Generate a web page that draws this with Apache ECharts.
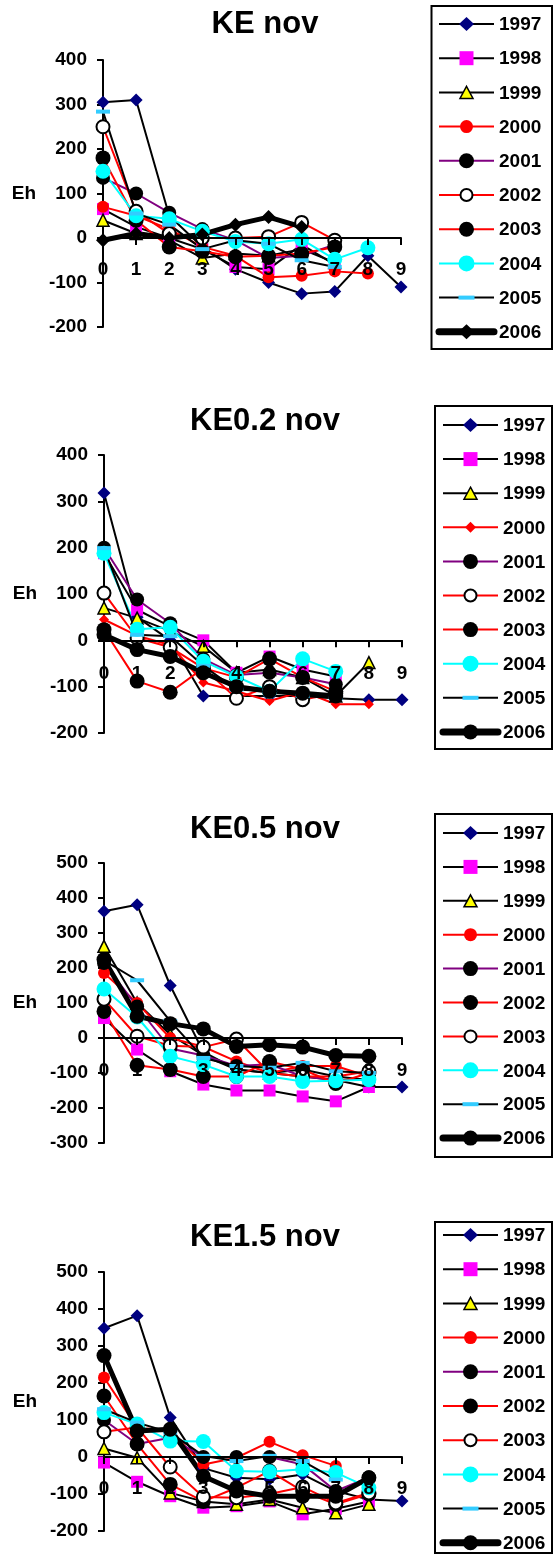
<!DOCTYPE html>
<html><head><meta charset="utf-8">
<script src="https://cdn.jsdelivr.net/npm/echarts@6/dist/echarts.min.js"></script>
<style>html,body{margin:0;padding:0;background:#fff}#c{width:554px;height:1556px}</style>
</head><body><div id="c"></div>
<script>
// ---------- data ----------
const categories = ['0','1','2','3','4','5','6','7','8','9'];
const years = ['1997','1998','1999','2000','2001','2002','2003','2004','2005','2006'];
const titles = ['KE nov','KE0.2 nov','KE0.5 nov','KE1.5 nov'];
const yName = 'Eh';

// KE nov
const p1_1997 = [305, 310, 50, -20, -70, -100, -125, -120, -40, -110];
const p1_1998 = [65, 25, 0, -25, -65, -70, -15, -60];
const p1_1999 = [40, 10, -5, -45, -35, -40, -25, -55];
const p1_2000 = [70, 50, 20, -20, -40, -88, -85, -75, -80];
const p1_2001 = [135, 100, 57, 20, -5, -45, -40, -15];
const p1_2002 = [250, 60, 10, 0, 0, 3, 35, -5];
const p1_2003 = [180, 40, -20, -30, -42, -40, -35, -20];
const p1_2004 = [150, 50, 43, 15, -8, -13, -3, -48, -22];
const p1_2005 = [284, 55, 30, -25, -5, -13, -50, -65];
const p1_2006 = [-5, 10, 0, 8, 30, 47, 25];
// KE0.2 nov
const p2_1997 = [318, 50, 0, -120, -120, -120, -120, -125, -128, -128];
const p2_1998 = [188, 66, 30, 0, -70, -35, -63, -78];
const p2_1999 = [70, 48, 20, -13, -70, -63, -80, -120, -48];
const p2_2000 = [45, 10, -10, -91, -110, -131, -110, -138, -138];
const p2_2001 = [200, 88, 37, -40, -75, -70, -80, -95];
const p2_2002 = [102, 5, -15, -60, -125, -100, -128, -115];
const p2_2003 = [23, -88, -112, -60, -80, -40, -80, -110];
const p2_2004 = [188, 24, 28, -45, -78, -110, -40, -67];
const p2_2005 = [199, 12, 9, -55, -106, -110, -120, -125];
const p2_2006 = [12, -20, -35, -70, -100, -110, -114, -120];
// KE0.5 nov
const p3_1997 = [362, 381, 150, -40, -90, -100, -110, -120, -140, -140];
const p3_1998 = [57, -33, -95, -133, -150, -150, -167, -181, -140];
const p3_1999 = [262, 100, 10, -50, -90, -100, -90, -110, -120];
const p3_2000 = [186, 100, 0, -25, -67, -100, -80, -80, -110];
const p3_2001 = [214, 90, -30, -50, -80, -75, -110, -120, -120];
const p3_2002 = [76, -78, -90, -110, -110, -67, -90, -130, -100];
const p3_2003 = [111, 5, -22, -26, -3, -100, -110, -110, -95];
const p3_2004 = [140, 60, -52, -76, -110, -110, -124, -122, -119];
const p3_2005 = [222, 165, 48, -57, -80, -85, -71, -95, -100];
const p3_2006 = [224, 62, 41, 26, -24, -19, -26, -50, -52];
// KE1.5 nov
const p4_1997 = [348, 382, 107, -30, -56, -60, -47, -92, -115, -119];
const p4_1998 = [-15, -67, -106, -137, -133, -120, -155, -140, -120];
const p4_1999 = [23, -2, -97, -120, -128, -115, -137, -151, -128];
const p4_2000 = [215, 80, 70, -20, -2, 41, 5, -24];
const p4_2001 = [100, 35, 52, 0, 0, 0, -20, -92, -55];
const p4_2002 = [165, 35, -74, -120, -83, -38, -92, -128, -100];
const p4_2003 = [68, 80, -27, -108, -110, -100, -81, -124, -97];
const p4_2004 = [120, 89, 43, 42, -38, -40, -33, -42, -83];
const p4_2005 = [129, 93, 66, 3, -11, 3, -11, -61];
const p4_2006 = [274, 70, 75, -52, -92, -106, -106, -106, -56];

const panelData = [
  [p1_1997,p1_1998,p1_1999,p1_2000,p1_2001,p1_2002,p1_2003,p1_2004,p1_2005,p1_2006],
  [p2_1997,p2_1998,p2_1999,p2_2000,p2_2001,p2_2002,p2_2003,p2_2004,p2_2005,p2_2006],
  [p3_1997,p3_1998,p3_1999,p3_2000,p3_2001,p3_2002,p3_2003,p3_2004,p3_2005,p3_2006],
  [p4_1997,p4_1998,p4_1999,p4_2000,p4_2001,p4_2002,p4_2003,p4_2004,p4_2005,p4_2006]
];
const yMin = [-200, -200, -300, -200];
const yMax = [400, 400, 500, 500];

// ---------- layout / style ----------
const FONT = '"Liberation Sans", Arial, Helvetica, sans-serif';
const layout = [
  {gLeft:103, gTop:60, gH:267, tTop:9,   lblM:-67, box:[431.5, 6, 552, 349],   y0:24,   step:34.2, lx1:439, lx2:494, tx:499},
  {gLeft:104, gTop:455, gH:278, tTop:406, lblM:-69, box:[435, 406, 552, 749],  y0:425,  step:34.1, lx1:443, lx2:498, tx:503},
  {gLeft:104, gTop:863, gH:280, tTop:814, lblM:-82, box:[435, 814, 552, 1157], y0:833,  step:33.9, lx1:443, lx2:498, tx:503},
  {gLeft:104, gTop:1272, gH:259, tTop:1222, lblM:-52, box:[435, 1222, 552, 1553], y0:1235, step:34.2, lx1:443, lx2:498, tx:503}
];
const GW = 298;

function sty(p, k) {
  const white = {symbol:'circle', size:13, lsize:12, fill:'#fff', stroke:'#000', sw:2, line:'#FF0000', lw:2};
  const blackRed = {symbol:'circle', size:15, lsize:15, fill:'#000', line:'#FF0000', lw:2};
  switch (k) {
    case 0: return {symbol:'diamond', size:13, lsize:[15,14], fill:'#000080', line:'#000', lw:2};
    case 1: return {symbol:'rect', size:12, lsize:[14,14], fill:'#FF00FF', line:'#000', lw:2};
    case 2: return {symbol:'triangle', size:12, lsize:[13,12], fill:'#FFFF00', stroke:'#000', sw:1.5, line:'#000', lw:2};
    case 3: return p === 1 ? {symbol:'diamond', size:10, lsize:[11,11], fill:'#FF0000', line:'#FF0000', lw:2}
                           : {symbol:'circle', size:12, lsize:13, fill:'#FF0000', line:'#FF0000', lw:2};
    case 4: return {symbol:'circle', size:14, lsize:15, fill:'#000', line:'#800080', lw:2};
    case 5: return p < 2 ? white : blackRed;
    case 6: return p < 2 ? blackRed : white;
    case 7: return {symbol:'circle', size:15, lsize:16, fill:'#00FFFF', line:'#00FFFF', lw:2};
    case 8: return {symbol:'rect', size:[14,4], lsize:[16,4], fill:'#33CCFF', line:'#000', lw:2};
    case 9: return p === 0 ? {symbol:'diamond', size:14, lsize:[16,15], fill:'#000', line:'#000', lw:5, lLw:7}
                           : {symbol:'circle', size:15, lsize:15, fill:'#000', line:'#000', lw:5, lLw:7};
  }
}

const grid = [], xAxis = [], yAxis = [], title = [], series = [], graphic = [];
const axisFont = {color:'#000', fontWeight:'bold', fontSize:19, fontFamily:FONT};

for (let p = 0; p < 4; p++) {
  const L = layout[p];
  grid.push({left:L.gLeft, top:L.gTop, width:GW, height:L.gH});
  title.push({text:titles[p], left:265, top:L.tTop, textAlign:'center', padding:0,
    textStyle:{fontSize:31, fontWeight:'bold', color:'#000', fontFamily:FONT}});
  xAxis.push({type:'category', gridIndex:p, data:categories, boundaryGap:false, z:5,
    axisLine:{onZero:true, lineStyle:{color:'#000', width:2}},
    axisTick:{show:true, length:7, lineStyle:{color:'#000', width:2}},
    axisLabel:Object.assign({margin:L.lblM, interval:0}, axisFont),
    splitLine:{show:false}});
  yAxis.push({type:'value', gridIndex:p, min:yMin[p], max:yMax[p], interval:100,
    name:yName, nameLocation:'middle', nameRotate:0, nameGap:67,
    nameTextStyle:axisFont,
    axisLine:{show:true, onZero:false, lineStyle:{color:'#000', width:2}},
    axisTick:{show:true, length:6, lineStyle:{color:'#000', width:2}},
    axisLabel:Object.assign({margin:16}, axisFont),
    splitLine:{show:false}});

  for (let k = 0; k < 10; k++) {
    const s = sty(p, k);
    series.push({type:'line', name:years[k] + '#' + p, xAxisIndex:p, yAxisIndex:p,
      data:panelData[p][k], symbol:s.symbol, symbolSize:s.size, showSymbol:true, showAllSymbol:true,
      itemStyle:{color:s.fill, borderColor:s.stroke || s.fill, borderWidth:s.sw || 0, opacity:1},
      lineStyle:{color:s.line, width:s.lw},
      emphasis:{disabled:true}, silent:true, animation:false});
  }

  // legend box
  const [bx1, by1, bx2, by2] = L.box;
  graphic.push({type:'rect', shape:{x:bx1, y:by1, width:bx2-bx1, height:by2-by1},
    style:{fill:'#fff', stroke:'#000', lineWidth:2}, silent:true});
  for (let k = 0; k < 10; k++) {
    const s = sty(p, k);
    const cy = L.y0 + k * L.step;
    const cx = (L.lx1 + L.lx2) / 2;
    graphic.push({type:'line', shape:{x1:L.lx1, y1:cy, x2:L.lx2, y2:cy},
      style:{stroke:s.line, lineWidth:s.lLw || s.lw, lineCap:s.lLw ? 'round' : 'butt'}, silent:true});
    const ls = s.lsize;
    const st = {fill:s.fill, stroke:s.stroke || null, lineWidth:s.sw || 0};
    if (s.symbol === 'circle') {
      graphic.push({type:'circle', shape:{cx:cx, cy:cy, r:ls/2}, style:st, silent:true});
    } else if (s.symbol === 'rect') {
      graphic.push({type:'rect', shape:{x:cx-ls[0]/2, y:cy-ls[1]/2, width:ls[0], height:ls[1]}, style:st, silent:true});
    } else if (s.symbol === 'diamond') {
      graphic.push({type:'polygon', shape:{points:[[cx,cy-ls[1]/2],[cx+ls[0]/2,cy],[cx,cy+ls[1]/2],[cx-ls[0]/2,cy]]}, style:st, silent:true});
    } else if (s.symbol === 'triangle') {
      graphic.push({type:'polygon', shape:{points:[[cx,cy-ls[1]/2],[cx+ls[0]/2,cy+ls[1]/2],[cx-ls[0]/2,cy+ls[1]/2]]}, style:st, silent:true});
    }
    graphic.push({type:'text', x:L.tx, y:cy + 1, silent:true,
      style:{text:years[k], fill:'#000', font:'bold 19px ' + FONT, verticalAlign:'middle', align:'left'}});
  }
}

const chart = echarts.init(document.getElementById('c'), null, {renderer:'canvas'});
chart.setOption({animation:false, backgroundColor:'#fff', title, grid, xAxis, yAxis, series, graphic});
</script>
</body></html>
